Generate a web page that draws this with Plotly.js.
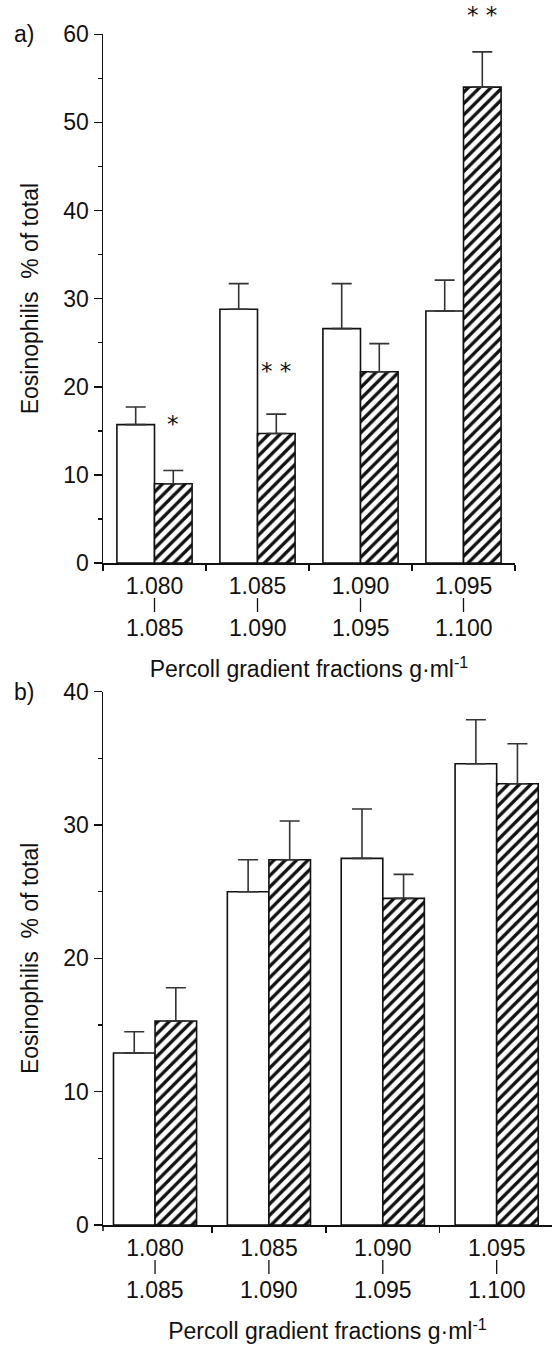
<!DOCTYPE html>
<html><head><meta charset="utf-8">
<script src="https://cdn.plot.ly/plotly-3.0.1.min.js"></script>
<style>html,body{margin:0;padding:0;background:#fff}</style>
</head><body><div id="chart" style="width:552px;height:1346px"></div>
<script>
// ---- data ----
const categories = ['1.080–1.085', '1.085–1.090', '1.090–1.095', '1.095–1.100'];
const lowerBounds = ['1.080', '1.085', '1.090', '1.095'];
const upperBounds = ['1.085', '1.090', '1.095', '1.100'];

// panel a
const whiteA    = [15.7, 28.8, 26.6, 28.6];
const whiteErrA = [2.0, 2.9, 5.1, 3.5];
const hatchA    = [9.0, 14.7, 21.7, 54.0];
const hatchErrA = [1.5, 2.2, 3.2, 4.0];
const sigA      = ['*', '* *', '', '* *'];
const sigYA     = [15.8, 21.8, null, 62.2];

// panel b
const whiteB    = [12.9, 25.0, 27.5, 34.6];
const whiteErrB = [1.6, 2.4, 3.7, 3.3];
const hatchB    = [15.3, 27.4, 24.5, 33.1];
const hatchErrB = [2.5, 2.9, 1.8, 3.0];

const yTitle = 'Eosinophilis\u00a0\u00a0% of total';
const xTitle = 'Percoll gradient fractions g·ml<sup>-1</sup>';

// ---- style ----
const FONT = '"Liberation Sans", Arial, sans-serif';
const INK = '#111';
const zeros = categories.map(() => 0);

function pair(xa, ya, white, wErr, hatch, hErr) {
  const common = {type: 'bar', x: categories, xaxis: xa, yaxis: ya, showlegend: false, hoverinfo: 'skip'};
  const eb = (arr) => ({type: 'data', symmetric: false, array: arr, arrayminus: zeros,
                        color: '#333', thickness: 1.6, width: 10});
  return [
    Object.assign({}, common, {y: white, marker: {color: 'white', line: {color: INK, width: 1.6}}, error_y: eb(wErr)}),
    Object.assign({}, common, {y: hatch, marker: {color: 'white', line: {color: INK, width: 1.6},
      pattern: {shape: '/', fgcolor: INK, bgcolor: 'white', size: 8, solidity: 0.42}}, error_y: eb(hErr)})
  ];
}

const data = [].concat(
  pair('x', 'y', whiteA, whiteErrA, hatchA, hatchErrA),
  pair('x2', 'y2', whiteB, whiteErrB, hatchB, hatchErrB)
);

const W = 552, H = 1346, L = 103;
const plotW = W - L;
const py = (px) => 1 - px / H;

const tickFont = {family: FONT, size: 23, color: INK};

function mainX(range, domainEnd, anchor) {
  return {domain: [0, domainEnd], anchor: anchor, type: 'category', range: range,
    tickson: 'boundaries', ticks: 'outside', ticklen: 6, tickwidth: 1.5, tickcolor: INK,
    showline: true, linecolor: INK, linewidth: 1.5, showgrid: false, zeroline: false,
    tickmode: 'array', tickvals: categories, ticktext: lowerBounds, tickfont: tickFont,
    ticklabelstandoff: 2, fixedrange: true,
    title: {text: xTitle, font: {family: FONT, size: 23, color: INK}, standoff: 63}};
}
function yAx(range, domain, anchor) {
  return {domain: domain, anchor: anchor, range: range, dtick: 10, ticks: 'outside', ticklen: 8,
    tickwidth: 1.5, tickcolor: INK, showline: true, linecolor: INK, linewidth: 1.5,
    showgrid: false, zeroline: false, tickfont: tickFont,
    minor: {dtick: 5, ticks: 'outside', ticklen: 4, tickwidth: 1.5, tickcolor: INK},
    title: {text: yTitle, font: {family: FONT, size: 23, color: INK}, standoff: 18}, fixedrange: true};
}

const rangeA = [-0.5, 3.5];
const rangeB = [-0.457, 3.486];
const yRangeA = [0, 60];
const axisPxA = 563, axisPxB = 1225;
const yDomA = [py(axisPxA), py(34.3)];
const pxPerUnitA = (axisPxA - 34.3) / (yRangeA[1] - yRangeA[0]);

const annotations = [
  {xref: 'paper', yref: 'paper', x: -L / plotW + 12 / plotW, y: py(34), xanchor: 'left', yanchor: 'middle',
   text: 'a)', showarrow: false, font: {family: FONT, size: 23, color: INK}},
  {xref: 'paper', yref: 'paper', x: -L / plotW + 12 / plotW, y: py(692), xanchor: 'left', yanchor: 'middle',
   text: 'b)', showarrow: false, font: {family: FONT, size: 23, color: INK}}
];
const shapes = [
  // axis-start tick of panel b
  {type: 'line', xref: 'x2 domain', yref: 'paper', x0: 0, x1: 0, y0: py(axisPxB), y1: py(axisPxB + 6),
   line: {color: INK, width: 1.5}}
];
// second line of each two-line tick label: separator rule + upper bound
[['x', 'y', axisPxA], ['x2', 'y2', axisPxB]].forEach(([xr, yr, ap]) => {
  categories.forEach((c, i) => {
    shapes.push({type: 'line', xref: xr, yref: 'paper', x0: i, x1: i,
      y0: py(ap + 35), y1: py(ap + 49), line: {color: INK, width: 1.3}});
    annotations.push({xref: xr, yref: yr, x: i, y: 0, yshift: -65, text: upperBounds[i], showarrow: false,
      xanchor: 'center', yanchor: 'middle', font: tickFont});
  });
});
sigA.forEach((s, i) => {
  if (!s) return;
  const yy = Math.min(sigYA[i], yRangeA[1]);
  annotations.push({xref: 'x', yref: 'y', x: i + 0.18, y: yy, yshift: (sigYA[i] - yy) * pxPerUnitA,
    text: s, showarrow: false, xanchor: 'center', yanchor: 'middle',
    font: {family: 'DejaVu Sans', size: 23, color: INK}});
});

const layout = {
  width: W, height: H, margin: {l: L, r: 0, t: 0, b: 0},
  paper_bgcolor: 'white', plot_bgcolor: 'white',
  barmode: 'group', bargap: 0.27, bargroupgap: 0,
  font: {family: FONT, color: INK},
  xaxis: mainX(rangeA, 412 / plotW, 'y'),
  yaxis: yAx(yRangeA, yDomA, 'x'),
  xaxis2: mainX(rangeB, 1, 'y2'),
  yaxis2: yAx([0, 40], [py(axisPxB), py(691.7)], 'x2'),
  annotations: annotations,
  shapes: shapes
};

Plotly.newPlot('chart', data, layout, {staticPlot: true, displayModeBar: false});
</script></body></html>
